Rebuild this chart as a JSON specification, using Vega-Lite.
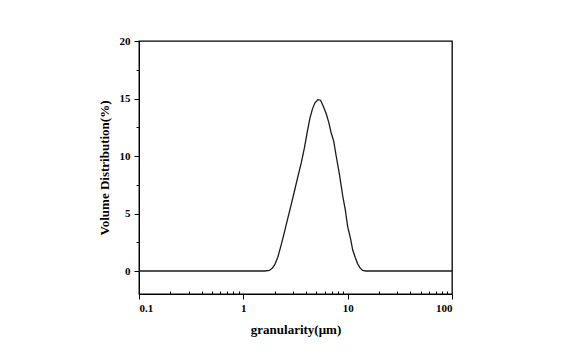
{
  "$schema": "https://vega.github.io/schema/vega-lite/v6.json",
  "width": 313,
  "height": 253,
  "autosize": {"type": "none"},
  "padding": {"left": 139, "top": 41, "right": 120, "bottom": 58},
  "background": "white",
  "config": {
    "view": {"stroke": "#000000", "strokeWidth": 1.3},
    "axis": {
      "labelFont": "Liberation Serif",
      "labelFontWeight": "bold",
      "labelFontSize": 11,
      "labelColor": "#000000",
      "titleFont": "Liberation Serif",
      "titleFontWeight": "bold",
      "titleFontSize": 13,
      "titleColor": "#000000",
      "domainColor": "#000000",
      "tickColor": "#000000",
      "grid": false
    }
  },
  "data": {
    "values": [
      {"size": 0.1, "vol": 0},
      {"size": 1.0, "vol": 0},
      {"size": 1.6, "vol": 0},
      {"size": 1.78, "vol": 0.05},
      {"size": 1.9, "vol": 0.25},
      {"size": 2.0, "vol": 0.55},
      {"size": 2.14, "vol": 1.2},
      {"size": 2.31, "vol": 2.3},
      {"size": 2.48, "vol": 3.4},
      {"size": 2.67, "vol": 4.6},
      {"size": 2.88, "vol": 5.8},
      {"size": 3.1, "vol": 7.0},
      {"size": 3.35, "vol": 8.3},
      {"size": 3.59, "vol": 9.4},
      {"size": 3.85, "vol": 10.7},
      {"size": 4.1, "vol": 12.1},
      {"size": 4.35, "vol": 13.3},
      {"size": 4.6, "vol": 14.1},
      {"size": 4.85, "vol": 14.6},
      {"size": 5.17, "vol": 14.9},
      {"size": 5.5, "vol": 14.85},
      {"size": 5.85, "vol": 14.3},
      {"size": 6.22, "vol": 13.7},
      {"size": 6.6, "vol": 12.9},
      {"size": 6.95, "vol": 12.0},
      {"size": 7.35, "vol": 11.3},
      {"size": 7.76, "vol": 10.0},
      {"size": 8.34, "vol": 8.4},
      {"size": 8.98, "vol": 6.5},
      {"size": 9.5, "vol": 5.3},
      {"size": 10.0, "vol": 3.85},
      {"size": 10.6, "vol": 2.9},
      {"size": 11.2, "vol": 1.8},
      {"size": 11.8, "vol": 1.2},
      {"size": 12.5, "vol": 0.6},
      {"size": 13.2, "vol": 0.25},
      {"size": 13.9, "vol": 0.05},
      {"size": 15.0, "vol": 0},
      {"size": 100, "vol": 0}
    ]
  },
  "layer": [
    {
      "mark": {"type": "line", "color": "#1a1a1a", "strokeWidth": 1.3, "clip": true},
      "encoding": {
        "x": {
          "field": "size", "type": "quantitative",
          "scale": {"type": "log", "domain": [0.1, 100], "nice": false},
          "axis": {
            "orient": "bottom",
            "values": [0.1, 1, 10, 100],
            "format": "~g",
            "tickSize": 5,
            "labelPadding": 3,
            "title": "granularity(μm)",
            "titlePadding": 10
          }
        },
        "y": {
          "field": "vol", "type": "quantitative",
          "scale": {"domain": [-2, 20], "nice": false, "zero": false},
          "axis": {
            "orient": "left",
            "values": [0, 5, 10, 15, 20],
            "tickSize": 5,
            "labelPadding": 4,
            "title": "Volume Distribution(%)",
            "titlePadding": 8
          }
        }
      }
    },
    {
      "mark": {"type": "line", "opacity": 0},
      "encoding": {
        "x": {
          "field": "size", "type": "quantitative",
          "axis": {
            "orient": "bottom",
            "values": [0.2, 0.3, 0.4, 0.5, 0.6, 0.7, 0.8, 0.9, 2, 3, 4, 5, 6, 7, 8, 9, 20, 30, 40, 50, 60, 70, 80, 90],
            "tickSize": -3,
            "labels": false,
            "domain": false,
            "title": null
          }
        },
        "y": {
          "field": "vol", "type": "quantitative",
          "axis": {
            "orient": "left",
            "values": [2.5, 7.5, 12.5, 17.5],
            "tickSize": 3,
            "labels": false,
            "domain": false,
            "title": null
          }
        }
      }
    }
  ],
  "resolve": {"axis": {"x": "independent", "y": "independent"}}
}
